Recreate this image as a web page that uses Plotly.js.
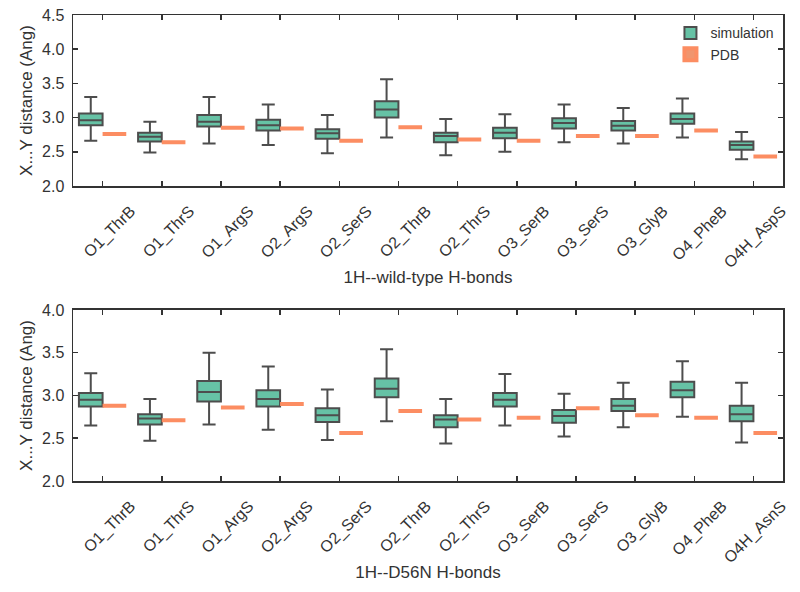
<!DOCTYPE html>
<html>
<head>
<meta charset="utf-8">
<script src="https://cdn.plot.ly/plotly-3.0.1.min.js"></script>
<style>html,body{margin:0;padding:0;background:#fff;}#chart{width:800px;height:592px;}</style>
</head>
<body>
<div id="chart"></div>
<script>
// ---- data ----
const catsWT = ["O1_ThrB","O1_ThrS","O1_ArgS","O2_ArgS","O2_SerS","O2_ThrB","O2_ThrS","O3_SerB","O3_SerS","O3_GlyB","O4_PheB","O4H_AspS"];
const catsMut = ["O1_ThrB","O1_ThrS","O1_ArgS","O2_ArgS","O2_SerS","O2_ThrB","O2_ThrS","O3_SerB","O3_SerS","O3_GlyB","O4_PheB","O4H_AsnS"];

// 1H--wild-type simulation box statistics
const wtLow    = [2.66, 2.49, 2.62, 2.60, 2.48, 2.71, 2.45, 2.50, 2.64, 2.62, 2.71, 2.39];
const wtQ1     = [2.89, 2.65, 2.87, 2.81, 2.69, 3.00, 2.64, 2.70, 2.84, 2.81, 2.91, 2.53];
const wtMedian = [2.96, 2.72, 2.94, 2.89, 2.77, 3.12, 2.73, 2.78, 2.92, 2.88, 2.98, 2.60];
const wtQ3     = [3.06, 2.78, 3.04, 2.97, 2.83, 3.24, 2.78, 2.85, 2.99, 2.95, 3.06, 2.65];
const wtHigh   = [3.30, 2.94, 3.30, 3.19, 3.04, 3.56, 2.98, 3.05, 3.19, 3.14, 3.28, 2.79];
// 1H--wild-type PDB values
const wtPDB    = [2.76, 2.64, 2.85, 2.84, 2.66, 2.86, 2.68, 2.66, 2.73, 2.73, 2.81, 2.43];

// 1H--D56N simulation box statistics
const mutLow    = [2.65, 2.47, 2.66, 2.60, 2.48, 2.70, 2.44, 2.65, 2.52, 2.63, 2.75, 2.45];
const mutQ1     = [2.87, 2.66, 2.93, 2.87, 2.69, 2.98, 2.63, 2.87, 2.68, 2.82, 2.98, 2.70];
const mutMedian = [2.95, 2.73, 3.04, 2.96, 2.77, 3.08, 2.72, 2.95, 2.76, 2.88, 3.06, 2.78];
const mutQ3     = [3.03, 2.78, 3.17, 3.06, 2.85, 3.20, 2.77, 3.03, 2.83, 2.96, 3.16, 2.88];
const mutHigh   = [3.26, 2.96, 3.50, 3.34, 3.07, 3.54, 2.96, 3.25, 3.02, 3.15, 3.40, 3.15];
// 1H--D56N PDB values
const mutPDB    = [2.88, 2.71, 2.86, 2.90, 2.56, 2.82, 2.72, 2.74, 2.85, 2.77, 2.74, 2.56];

// ---- styling ----
const simFill = "#66c2a5";
const pdbColor = "#fc8d62";
const edge = "#4d4d4d";
const txt = "#333333";
const fontFam = "Liberation Sans, Arial, sans-serif";

function simTrace(cats, lo, q1, med, q3, hi, xa, ya, grp, show) {
  return {
    type: "box", name: "simulation", x: cats,
    lowerfence: lo, q1: q1, median: med, q3: q3, upperfence: hi,
    fillcolor: simFill, line: {color: edge, width: 2},
    whiskerwidth: 0.55, xaxis: xa, yaxis: ya, showlegend: show,
    offsetgroup: "sim", alignmentgroup: grp, hoverinfo: "skip"
  };
}
function pdbTrace(cats, vals, xa, ya, grp, show) {
  return {
    type: "box", name: "PDB", x: cats,
    lowerfence: vals, q1: vals, median: vals, q3: vals, upperfence: vals,
    fillcolor: "#f0956e", line: {color: pdbColor, width: 4},
    whiskerwidth: 1, xaxis: xa, yaxis: ya, showlegend: show,
    offsetgroup: "pdb", alignmentgroup: grp, hoverinfo: "skip"
  };
}

const data = [
  simTrace(catsWT, wtLow, wtQ1, wtMedian, wtQ3, wtHigh, "x", "y", "top", true),
  pdbTrace(catsWT, wtPDB, "x", "y", "top", true),
  simTrace(catsMut, mutLow, mutQ1, mutMedian, mutQ3, mutHigh, "x2", "y2", "bottom", false),
  pdbTrace(catsMut, mutPDB, "x2", "y2", "bottom", false)
];

const axBase = {
  showline: true, linecolor: "#333333", linewidth: 1.5, mirror: "allticks",
  ticks: "inside", ticklen: 5, tickwidth: 1.5, tickcolor: "#333333",
  showgrid: false, zeroline: false,
  tickfont: {family: fontFam, size: 16, color: txt}
};

function xAxis(anchor, title) {
  return Object.assign({}, axBase, {
    anchor: anchor, domain: [0, 1], type: "category",
    tickangle: -45, ticklabelshift: 28, ticklabelstandoff: 8,
    tickfont: {family: fontFam, size: 16, color: txt},
    title: {text: title, font: {family: fontFam, size: 17, color: txt}, standoff: 0}
  });
}
function yAxis(domain, anchor, range, dtick) {
  return Object.assign({}, axBase, {
    anchor: anchor, domain: domain, range: range, dtick: dtick, tick0: 2,
    tickformat: ".1f", ticklabelstandoff: 4,
    title: {text: "X...Y distance (Ang)", font: {family: fontFam, size: 17, color: txt}, standoff: 5}
  });
}

const layout = {
  width: 800, height: 592,
  margin: {l: 73, r: 17, t: 15, b: 111},
  paper_bgcolor: "#ffffff", plot_bgcolor: "#ffffff",
  boxmode: "group", boxgap: 0.2, boxgroupgap: 0,
  font: {family: fontFam, color: txt},
  xaxis: xAxis("y", "1H--wild-type H-bonds"),
  yaxis: yAxis([0.633, 1], "x", [2.0, 4.5], 0.5),
  xaxis2: xAxis("y2", "1H--D56N H-bonds"),
  yaxis2: yAxis([0, 0.367], "x2", [2.0, 4.0], 0.5),
  legend: {
    x: 0.995, y: 0.995, xanchor: "right", yanchor: "top",
    bgcolor: "rgba(0,0,0,0)", font: {family: fontFam, size: 14, color: txt},
    tracegroupgap: 0
  },
  showlegend: true
};

Plotly.newPlot("chart", data, layout, {displayModeBar: false, staticPlot: true});
</script>
</body>
</html>
